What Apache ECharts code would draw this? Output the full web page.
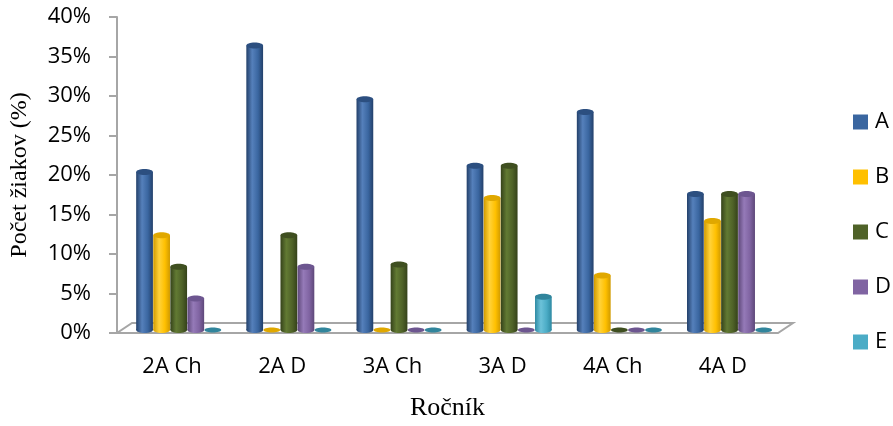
<!DOCTYPE html>
<html><head><meta charset="utf-8">
<script src="https://cdn.jsdelivr.net/npm/echarts@6/dist/echarts.min.js"></script>
<style>html,body{margin:0;padding:0;background:#fff}#c{width:893px;height:426px}</style>
</head><body><div id="c"></div>
<script>
const categories = ['2A Ch', '2A D', '3A Ch', '3A D', '4A Ch', '4A D'];
const seriesNames = ['A', 'B', 'C', 'D', 'E'];
const valA = [0.20, 0.36, 0.292, 0.208, 0.276, 0.172];
const valB = [0.12, 0.00, 0.000, 0.167, 0.069, 0.138];
const valC = [0.08, 0.12, 0.083, 0.208, 0.000, 0.172];
const valD = [0.04, 0.08, 0.000, 0.000, 0.000, 0.172];
const valE = [0.00, 0.00, 0.000, 0.042, 0.000, 0.000];
const yTicks = [0, 0.05, 0.10, 0.15, 0.20, 0.25, 0.30, 0.35, 0.40];
const allVals = [valA, valB, valC, valD, valE];

const palette = [
  {base:'#3a66a0', dark:'#23406a', light:'#5580bb', top:'#2c4f80'},
  {base:'#ffc000', dark:'#d09a00', light:'#ffd23a', top:'#e0a800'},
  {base:'#4f6228', dark:'#35421a', light:'#627a33', top:'#3f4f20'},
  {base:'#8064a2', dark:'#5e4879', light:'#957ab8', top:'#6d5690'},
  {base:'#4bacc6', dark:'#2e8aa3', light:'#6cc2d9', top:'#31859c'}
];

function makeRender(idx) {
  return function (params, api) {
    const cat = api.value(0), v = api.value(1);
    const base = api.coord([cat, 0]);
    const top = api.coord([cat, v]);
    const band = api.size([1, 0])[0];
    const pitch = band * 0.155;
    const w = band * 0.152;
    const lift = 3;
    const cx = base[0] + (idx - 2) * pitch + band * 0.06;
    const yb = base[1] - lift, yt = top[1] - lift;
    const p = palette[idx];
    const ry = 3;
    const grad = new echarts.graphic.LinearGradient(0, 0, 1, 0, [
      {offset: 0, color: p.dark}, {offset: 0.35, color: p.light},
      {offset: 0.7, color: p.base}, {offset: 1, color: p.dark}
    ]);
    const children = [];
    if (v <= 0) {
      children.push({type: 'ellipse', shape: {cx: cx, cy: yb, rx: w / 2, ry: 2.5},
        style: {fill: p.top}});
    } else {
      children.push({type: 'ellipse', shape: {cx: cx, cy: yb, rx: w / 2, ry: ry}, style: {fill: grad}});
      children.push({type: 'rect', shape: {x: cx - w / 2, y: yt, width: w, height: yb - yt}, style: {fill: grad}});
      children.push({type: 'ellipse', shape: {cx: cx, cy: yt, rx: w / 2, ry: ry}, style: {fill: p.top}});
    }
    return {type: 'group', children: children};
  };
}

const series = [];
series.push({
  type: 'custom', name: '_floor', silent: true, z: 1,
  data: [[0, 0]],
  renderItem: function (params, api) {
    const band = api.size([1, 0])[0];
    const c0 = api.coord([0, 0]);
    const c5 = api.coord([categories.length - 1, 0]);
    const L = c0[0] - band / 2, R = c5[0] + band / 2, y0 = c0[1];
    return {type: 'polygon', shape: {points: [[L, y0], [R, y0], [R + 15, y0 - 10], [L + 15, y0 - 10]]},
      style: {fill: '#ffffff', stroke: '#a6a6a6', lineWidth: 2}};
  }
});
allVals.forEach(function (vals, i) {
  series.push({
    type: 'custom', name: seriesNames[i], z: 2,
    itemStyle: {color: palette[i].base},
    data: vals.map(function (v, j) { return [j, v]; }),
    renderItem: makeRender(i)
  });
});

const chart = echarts.init(document.getElementById('c'));
chart.setOption({
  animation: false,
  backgroundColor: '#fff',
  grid: {left: 117, right: 115, top: 17, bottom: 93, containLabel: false},
  legend: {
    data: seriesNames, orient: 'vertical', left: 853, top: 111, padding: 0,
    itemWidth: 15, itemHeight: 15, itemGap: 33, icon: 'rect',
    textStyle: {fontFamily: 'Open Sans', fontSize: 22, color: '#000', padding: [0, 0, 0, 2]}
  },
  xAxis: {
    type: 'category', data: categories,
    axisLine: {show: false}, axisTick: {show: false},
    axisLabel: {fontFamily: 'Open Sans', fontSize: 22, color: '#000', margin: 23},
    name: 'Ročník', nameLocation: 'middle', nameGap: 62,
    nameTextStyle: {fontFamily: 'Liberation Serif', fontSize: 26, color: '#000'}
  },
  yAxis: {
    type: 'value', min: 0, max: 0.4, interval: 0.05,
    axisLine: {show: true, lineStyle: {color: '#a6a6a6', width: 2}},
    axisTick: {show: true, length: 8, lineStyle: {color: '#a6a6a6', width: 2}},
    splitLine: {show: false},
    axisLabel: {fontFamily: 'Open Sans', fontSize: 22, color: '#000', margin: 26,
      formatter: function (v) { return Math.round(v * 100) + '%'; }},
    name: 'Počet žiakov (%)', nameLocation: 'middle', nameGap: 85,
    nameTextStyle: {fontFamily: 'Liberation Serif', fontSize: 24, color: '#000'}
  },
  series: series
});
</script></body></html>
